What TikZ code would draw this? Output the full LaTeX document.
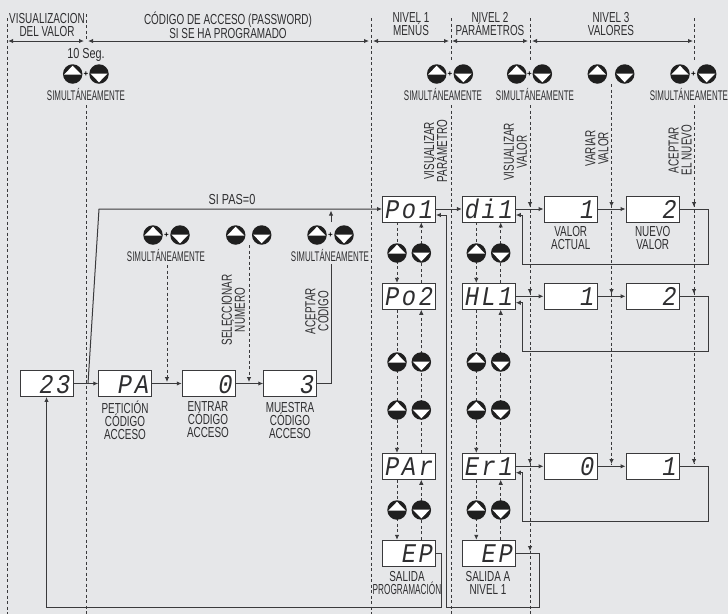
\documentclass[tikz,border=0pt]{standalone}
\usepackage{fontspec}
\usetikzlibrary{arrows.meta,calc}
\setmainfont{Liberation Sans}
\newfontfamily\condf[FakeStretch=0.684]{Liberation Sans}
\newfontfamily\narf[FakeStretch=0.568]{Liberation Sans}
\newfontfamily\wdef[FakeStretch=0.75]{Liberation Sans}
\newfontfamily\segf[LetterSpace=10,FakeStretch=0.88]{Liberation Mono}
\definecolor{bgc}{HTML}{E6E7E9}
\definecolor{inkc}{HTML}{3A3A3C}
\definecolor{txtc}{HTML}{2E2E30}
\tikzset{
 lab/.style={font=\condf\fontsize{14.5}{13}\selectfont,text=txtc,inner sep=0pt,align=center},
 labn/.style={font=\narf\fontsize{14}{13}\selectfont,text=txtc,inner sep=0pt,align=center},
 labw/.style={font=\wdef\fontsize{14.5}{13}\selectfont,text=txtc,inner sep=0pt,align=center},
 dsh/.style={draw=inkc,line width=0.8pt,dash pattern=on 3pt off 2.5pt},
 sol/.style={draw=inkc,line width=1pt},
 tipr/.style={-{Latex[length=5pt,width=4.5pt]}},
 tipb/.style={{Latex[length=5pt,width=4.5pt]}-{Latex[length=5pt,width=4.5pt]}},
 disp/.style={draw=inkc,line width=0.9pt,fill=white,minimum width=53pt,minimum height=26pt,
   inner sep=0pt,text width=48pt,align=right,text height=19pt,text depth=0pt,
   font=\segf\itshape\fontsize{27}{27}\selectfont,text=txtc},
 btnup/.style={circle,fill=black!88,minimum size=19.5pt,inner sep=0pt,
   path picture={\fill[white] ($(path picture bounding box.center)+(0,8.3pt)$) -- ($(path picture bounding box.center)+(8.6pt,-0.5pt)$) -- ($(path picture bounding box.center)+(-8.6pt,-0.5pt)$) -- cycle;}},
 btndn/.style={circle,fill=black!88,minimum size=19.5pt,inner sep=0pt,
   path picture={\fill[white] ($(path picture bounding box.center)+(0,-8.3pt)$) -- ($(path picture bounding box.center)+(8.6pt,0.5pt)$) -- ($(path picture bounding box.center)+(-8.6pt,0.5pt)$) -- cycle;}},
 plusn/.style={font=\bfseries\fontsize{8}{8}\selectfont,text=black,inner sep=0pt}
}
\begin{document}
\begin{tikzpicture}[x=1pt,y=-1pt]
\useasboundingbox (0,0) rectangle (728,614);
\fill[bgc] (0,0) rectangle (728,614);

% named free ends
\foreach \n/\x/\y in {a1/7.5/18,a2/7.5/614,b1/86/14,b2/86/41,b3/86/105,b4/86/614,
  c1/371/18,c2/371/614,d1/451/18,d2/451/60,d3/451/105,d4/451/614,
  e1/530/18,e2/530/60,e3/530/105,e4/530/551,e5/530/614,
  f1/611.5/84,f4/611.5/464,
  g1/694/18,g2/694/60,g3/694/105,g6/694/464,
  ha/8/41,hb/84/41,hc/88/41,hd/369/41,he/373/41,hf/449/41,hg/452/41,hh/528/41,hi/532/41,hj/693/41}
  {\coordinate (\n) at (\x,\y);}

% vertical dashed guides
\draw[dsh] (a1)--(a2);
\draw[dsh] (b1)--(b2) (b3)--(b4);
\draw[dsh] (c1)--(c2);
\draw[dsh] (d1)--(d2) (d3)--(d4);
\draw[dsh] (e1)--(e2) (e3)--(e5);
\draw[dsh] (g1)--(g2) (g3)--(g6);
\draw[dsh] (f1)--(f4);

% displays
\node[disp] (v23) at (46.5,383.5) {23};
\node[disp] (pa) at (125.2,383.5) {PA};
\node[disp] (n0) at (208.7,383.5) {0};
\node[disp] (n3) at (290.2,383.5) {3};
\node[disp] (po1) at (409,209) {Po1};
\node[disp] (di1) at (488.8,209) {di1};
\node[disp] (va1) at (570.5,209) {1};
\node[disp] (vb1) at (652.5,209) {2};
\node[disp] (po2) at (409,296.3) {Po2};
\node[disp] (hl1) at (488.8,296.3) {HL1};
\node[disp] (va2) at (570.5,296.3) {1};
\node[disp] (vb2) at (652.5,296.3) {2};
\node[disp] (par) at (409,466.3) {PAr};
\node[disp] (er1) at (488.8,466.3) {Er1};
\node[disp] (va3) at (570.5,466.3) {0};
\node[disp] (vb3) at (652.5,466.3) {1};
\node[disp] (ep1) at (409,553.2) {EP};
\node[disp] (ep2) at (488.8,553.2) {EP};

% header arrows
\draw[sol,tipb] (ha)--(hb);
\draw[sol,tipb] (hc)--(hd);
\draw[sol,tipb] (he)--(hf);
\draw[sol,tipb] (hg)--(hh);
\draw[sol,tipb] (hi)--(hj);

% tips on guides
\draw[-{Latex[length=5pt,width=4.5pt]},inkc,line width=0.8pt] ($(e4)+(0,-6)$)--(e4);
\foreach \y in {207,294,464} {
 \coordinate (t1) at (530,\y); \coordinate (t2) at (611.5,\y); \coordinate (t3) at (694,\y);
 \foreach \c in {t1,t2,t3}{\draw[-{Latex[length=5pt,width=4.5pt]},inkc,line width=0.8pt] ($(\c)+(0,-6)$)--(\c);}
}

% solid connectors, access level
\draw[sol,tipr] (v23)--(pa);
\draw[sol,tipr] (pa)--(n0);
\draw[sol,tipr] (n0)--(n3);
\coordinate (up1) at (88,383.5);
\coordinate (up2) at (99,209);
\draw[sol,tipr] (up1)--(up2)--(po1.west);
\coordinate (acc) at (331,383.5);
\coordinate (acc2) at (331,264);
\draw[sol] (n3.east)--(acc)--(acc2);
\coordinate (aup1) at (331,222);
\coordinate (aup2) at (331,210.5);
\draw[sol,tipr] (aup1)--(aup2);

% level connectors
\draw[sol,tipr] (po1)--(di1);
\draw[sol,tipr] (di1)--(va1);
\draw[sol,tipr] (va1)--(vb1);
\draw[sol,tipr] (hl1)--(va2);
\draw[sol,tipr] (va2)--(vb2);
\draw[sol,tipr] (er1)--(va3);
\draw[sol,tipr] (va3)--(vb3);
\draw[sol,tipr] (vb1.east) -- (708.3,209) -- (708.3,264) -- (522.3,264) -- (522.3,215) -- ([yshift=-6pt]di1.east);
\draw[sol,tipr] (vb2.east) -- (708.3,296.3) -- (708.3,351.3) -- (522.3,351.3) -- (522.3,302.7) -- ([yshift=-6.4pt]hl1.east);
\draw[sol,tipr] (vb3.east) -- (708.3,466.3) -- (708.3,521) -- (522.3,521) -- (522.3,472.7) -- ([yshift=-6.4pt]er1.east);
\draw[sol,tipr] (ep1.east) -- (441.7,553.2) -- (441.7,607.5) -- (46.5,607.5) -- (v23.south);
\draw[sol,tipr] (ep2.east) -- (539.7,553.2) -- (539.7,607.5) -- (446.3,607.5) -- (446.3,215) -- ([yshift=-6pt]po1.east);

% column dashed connectors
\foreach \up/\lo/\xa/\xb in {po1/po2/397/421.3,po2/par/397/421.3,par/ep1/397/421.3,di1/hl1/476.3/500.7,hl1/er1/476.3/500.7,er1/ep2/476.3/500.7}{
 \draw[dsh,tipr] (\up.south -| \xa,0) -- (\lo.north -| \xa,0);
 \draw[dsh,tipr] (\lo.north -| \xb,0) -- (\up.south -| \xb,0);
}

% dashed to access displays
\coordinate (s1) at (167,265); \coordinate (s2) at (167,382);
\coordinate (s3) at (249,245); \coordinate (s4) at (249,382);
\draw[dsh,tipr] (s1)--(s2);
\draw[dsh,tipr] (s3)--(s4);

% buttons
\foreach \xa/\xb/\y/\k in {72.7/99/74/a,436.7/463.3/74/b,516.7/542.3/74/c,680/706.7/74/d,153/180/235/e,317/344/235/f}{
 \node[btnup] (bu\k) at (\xa,\y) {};
 \node[btndn] (bd\k) at (\xb,\y) {};
 \node[plusn] (bp\k) at ($(bu\k)!0.5!(bd\k)$) {+};
}
\node[btnup] (bug) at (597.3,74) {};
\node[btndn] (bdg) at (624.7,74) {};
\node[btnup] (buh) at (235.7,235) {};
\node[btndn] (bdh) at (261.7,235) {};
\foreach \y/\k in {253/p,362/q,410/r,510/s}{
 \node[btnup] (bl\k) at (397,\y) {};
 \node[btndn] (bm\k) at (421.3,\y) {};
 \node[btnup] (bn\k) at (476.3,\y) {};
 \node[btndn] (bo\k) at (500.7,\y) {};
}

% header texts
\node[lab] (t1a) at (47,25.5) {VISUALIZACION\\DEL VALOR};
\node[lab] (t2a) at (228,25) {CÓDIGO DE ACCESO (PASSWORD)\\SI SE HA PROGRAMADO};
\node[lab] (t3a) at (411,24.5) {NIVEL 1\\MENÚS};
\node[lab] (t4a) at (490,24.5) {NIVEL 2\\PARÁMETROS};
\node[lab] (t5a) at (611,24.5) {NIVEL 3\\VALORES};
\node[labw] (seg) at (86,55) {10 Seg.};
\foreach \x/\y/\k in {86/94/a,443/94/b,535/94/c,688.9/94/d,166/255/e,330/255/f}{
 \node[labn] (sim\k) at (\x,\y) {SIMULTÁNEAMENTE};
}
\node[labw] (pas) at (232,200) {SI PAS=0};

% rotated texts
\node[lab,rotate=90] (r1) at (435.7,151) {VISUALIZAR\\PARÁMETRO};
\node[lab,rotate=90] (r2) at (515.5,152) {VISUALIZAR\\VALOR};
\node[lab,rotate=90] (r3) at (597,148.5) {VARIAR\\VALOR};
\node[lab,rotate=90] (r4) at (680,150) {ACEPTAR\\EL NUEVO};
\node[lab,rotate=90] (r5) at (233.3,310) {SELECCIONAR\\NÚMERO};
\node[lab,rotate=90] (r6) at (317,311) {ACEPTAR\\CÓDIGO};

% captions
\node[lab] (c1t) at (125,420) {PETICIÓN\\CÓDIGO\\ACCESO};
\node[lab] (c2t) at (208,420) {ENTRAR\\CÓDIGO\\ACCESO};
\node[lab] (c3t) at (290,420) {MUESTRA\\CÓDIGO\\ACCESO};
\node[lab] (c4t) at (570.7,238.5) {VALOR\\ACTUAL};
\node[lab] (c5t) at (652.7,238.5) {NUEVO\\VALOR};
\node[lab] (c6t) at (407,583) {SALIDA\\{\narf PROGRAMACIÓN}};
\node[lab] (c7t) at (488,583) {SALIDA A\\NIVEL 1};
\end{tikzpicture}
\end{document}
